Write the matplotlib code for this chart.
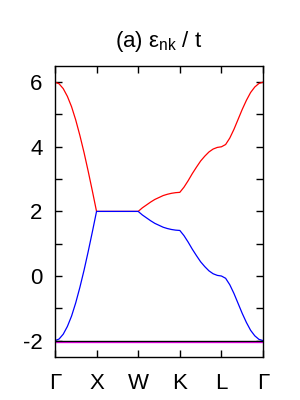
import numpy as np
import matplotlib
matplotlib.use("Agg")
import matplotlib.pyplot as plt
import matplotlib.transforms as mtransforms

plt.rcParams['font.family'] = ['Liberation Sans', 'DejaVu Sans']

# high symmetry points along the path
kpoints = ["Γ", "X", "W", "K", "L", "Γ"]
kpos = np.arange(len(kpoints))

# upper band, 10 samples per segment
upper = [6.00, 5.95, 5.80, 5.56, 5.24, 4.83, 4.35, 3.82, 3.24, 2.63, 2.00,
         2.00, 2.00, 2.00, 2.00, 2.00, 2.00, 2.00, 2.00, 2.00, 2.00,
         2.11, 2.20, 2.29, 2.37, 2.43, 2.49, 2.53, 2.56, 2.58, 2.59,
         2.75, 2.95, 3.17, 3.37, 3.56, 3.71, 3.84, 3.93, 3.98, 4.00,
         4.07, 4.27, 4.54, 4.85, 5.16, 5.44, 5.68, 5.85, 5.96, 6.00]

# lower band
lower = [-2.00, -1.95, -1.80, -1.56, -1.24, -0.83, -0.35, 0.18, 0.76, 1.37, 2.00,
         2.00, 2.00, 2.00, 2.00, 2.00, 2.00, 2.00, 2.00, 2.00, 2.00,
         1.89, 1.80, 1.71, 1.63, 1.57, 1.51, 1.47, 1.44, 1.42, 1.41,
         1.25, 1.05, 0.83, 0.63, 0.44, 0.29, 0.16, 0.07, 0.02, 0.00,
         -0.07, -0.27, -0.54, -0.85, -1.16, -1.44, -1.68, -1.85, -1.96, -2.00]

# two flat bands
flat_level = -2.0

k = np.linspace(kpos[0], kpos[-1], len(upper))
flat = np.full(len(k), flat_level)

fig = plt.figure(figsize=(3, 4), dpi=100)
ax = fig.add_axes([0.183, 0.108, 0.694, 0.727])

ax.plot(k, upper, color="red", lw=0.9)
ax.plot(k, lower, color="blue", lw=0.9)
shift = mtransforms.offset_copy(ax.transData, fig=fig, x=0, y=-1.0, units="dots")
ax.plot(k, flat, color="magenta", lw=1.0, transform=shift)
ax.plot(k, flat, color="black", lw=1.0)

ax.set_xlim(kpos[0], kpos[-1])
ax.set_ylim(-2.5, 6.5)
ax.set_xticks(kpos)
ax.set_xticklabels(kpoints)
ax.set_yticks([-2, 0, 2, 4, 6])
ax.set_yticklabels(["-2", "0", "2", "4", "6"])
ax.set_yticks([-1, 1, 3, 5], minor=True)

ax.tick_params(axis="both", which="both", direction="in", top=True, right=True,
               width=1.0, labelsize=16)
ax.tick_params(axis="both", which="major", length=5)
ax.tick_params(axis="both", which="minor", length=5)
ax.tick_params(axis="y", pad=9)
ax.tick_params(axis="x", pad=12)
for s in ax.spines.values():
    s.set_linewidth(1.0)

ax.set_title(r"(a) $\mathregular{ε_{nk}}$ / t", fontsize=16, pad=14)

fig.savefig("out.png", dpi=100)
